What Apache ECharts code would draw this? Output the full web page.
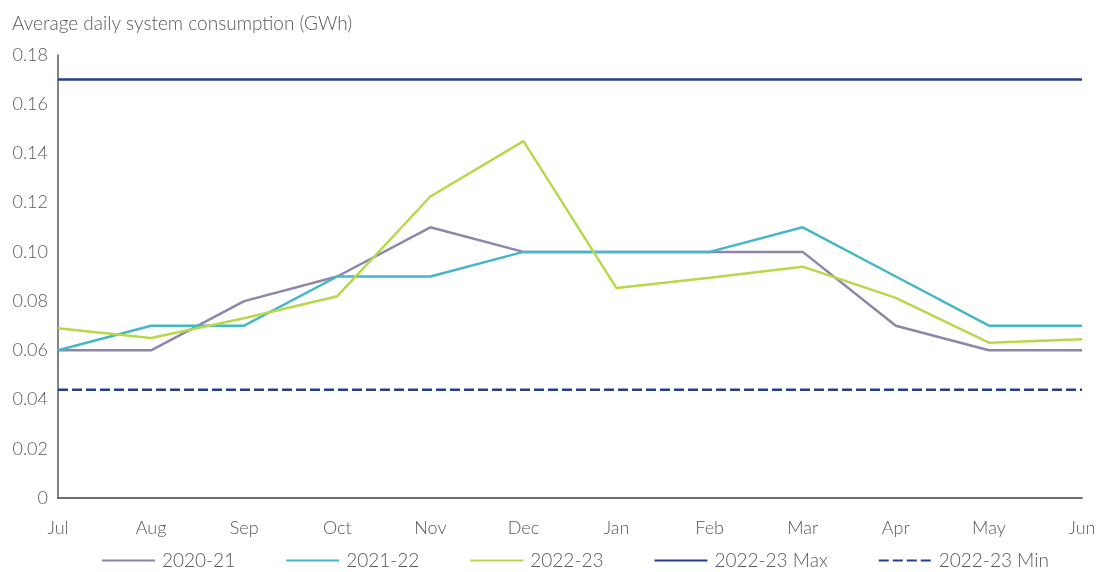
<!DOCTYPE html>
<html>
<head>
<meta charset="utf-8">
<script src="https://cdn.jsdelivr.net/npm/echarts@6/dist/echarts.min.js"></script>
<style>
  html, body { margin: 0; padding: 0; background: #fff; }
  #canvas { width: 1102px; height: 572px; }
</style>
</head>
<body>
<div id="canvas"></div>
<script>
const months = ['Jul', 'Aug', 'Sep', 'Oct', 'Nov', 'Dec', 'Jan', 'Feb', 'Mar', 'Apr', 'May', 'Jun'];
const fy2021 = [0.06, 0.06, 0.08, 0.09, 0.11, 0.10, 0.10, 0.10, 0.10, 0.07, 0.06, 0.06];
const fy2122 = [0.06, 0.07, 0.07, 0.09, 0.09, 0.10, 0.10, 0.10, 0.11, 0.09, 0.07, 0.07];
const fy2223 = [0.069, 0.065, 0.073, 0.082, 0.1225, 0.145, 0.0853, 0.0895, 0.094, 0.0813, 0.0631, 0.0645];
const fy2223Max = [0.17, 0.17, 0.17, 0.17, 0.17, 0.17, 0.17, 0.17, 0.17, 0.17, 0.17, 0.17];
const fy2223Min = [0.044, 0.044, 0.044, 0.044, 0.044, 0.044, 0.044, 0.044, 0.044, 0.044, 0.044, 0.044];

const chart = echarts.init(document.getElementById('canvas'));
const font = 'Lato';
const textColor = '#595959';
const fontSize = 18;

function line(name, data, color, type) {
  return {
    name,
    type: 'line',
    data,
    symbol: 'none',
    silent: true,
    lineStyle: { color, width: 2.5, type: type || 'solid' },
    itemStyle: { color },
  };
}

const option = {
  animation: false,
  textStyle: { fontFamily: font, fontWeight: 300 },
  title: {
    text: 'Average daily system consumption (GWh)',
    left: 7,
    top: 9,
    textStyle: { fontFamily: font, fontSize: 19, fontWeight: 300, color: textColor },
  },
  grid: { left: 58, right: 20, top: 55, bottom: 74, containLabel: false },
  legend: {
    bottom: -3,
    left: 96,
    itemWidth: 53,
    itemHeight: 10,
    itemGap: 50,
    itemStyle: { opacity: 0 },
    textStyle: { fontFamily: font, fontSize: 19, fontWeight: 300, color: textColor, padding: [0, 0, 0, 2] },
    data: ['2020-21', '2021-22', '2022-23', '2022-23 Max', '2022-23 Min'],
  },
  xAxis: {
    type: 'category',
    data: months,
    boundaryGap: false,
    axisLine: { lineStyle: { color: '#404040', width: 1.5 } },
    axisTick: { show: false },
    axisLabel: { fontFamily: font, fontSize, fontWeight: 300, color: textColor, margin: 21 },
  },
  yAxis: {
    type: 'value',
    min: 0,
    max: 0.18,
    interval: 0.02,
    axisLine: { show: true, lineStyle: { color: '#595959', width: 1.5 } },
    axisTick: { show: false },
    splitLine: { show: false },
    axisLabel: {
      fontFamily: font,
      fontSize,
      fontWeight: 300,
      color: textColor,
      margin: 10,
      formatter: v => (v === 0 ? '0' : v.toFixed(2)),
    },
  },
  series: [
    line('2020-21', fy2021, '#8c87a8'),
    line('2021-22', fy2122, '#45b7c6'),
    line('2022-23', fy2223, '#b6d94c'),
    line('2022-23 Max', fy2223Max, '#263f8c'),
    line('2022-23 Min', fy2223Min, '#263f8c', [10, 4]),
  ],
};

chart.setOption(option);
window.onresize = chart.resize;
</script>
</body>
</html>
